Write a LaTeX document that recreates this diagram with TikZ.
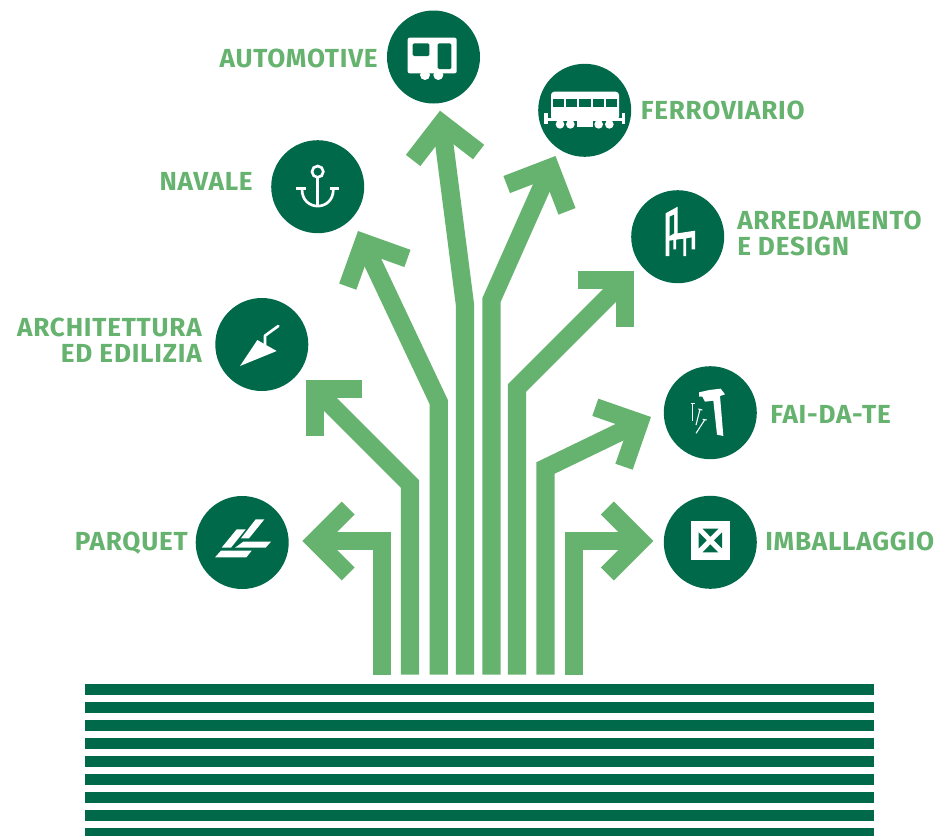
\documentclass[tikz,border=0pt]{standalone}
\usepackage{fontspec}
\usepackage{xcolor}
\usepackage{tikz}
\usetikzlibrary{arrows.meta}
\setmainfont{Fira Sans}[BoldFont={Fira Sans Bold},LetterSpace=3]
\definecolor{leafgreen}{HTML}{66B26F}
\definecolor{deepgreen}{HTML}{00694A}
\tikzset{
  hub/.style={circle,fill=deepgreen,minimum size=69.75pt,inner sep=0pt},
  tag/.style={text=leafgreen,font=\bfseries\fontsize{19.6pt}{19.5pt}\selectfont,inner sep=0pt,text depth=0pt},
  branch/.style={draw=leafgreen,line width=13.7pt,miter limit=10,
    -{Straight Barb[length=24.75pt,width=49.5pt,line width=13.7pt]}},
  iconzoom/.style={shift={#1},x=0.25pt,y=-0.25pt},
}
\begin{document}
\begin{tikzpicture}[x=0.75pt,y=-0.75pt]
  \useasboundingbox (0,0) rectangle (935,836);

  % ground stripes
  \foreach \y in {684,702,720,738,756,774,792,810,828}
  {
    \fill[deepgreen] (85,\y) rectangle (874,{min(\y+11,836)});
  }

  % circles
  \node[hub] (automotive) at (433.5,57) {};
  \node[hub] (ferroviario) at (584.7,110.3) {};
  \node[hub] (arredamento) at (677.7,236.7) {};
  \node[hub] (faidate) at (710.3,412.7) {};
  \node[hub] (imballaggio) at (710.3,542.3) {};
  \node[hub] (architettura) at (261.8,344.5) {};
  \node[hub] (parquet) at (242.2,542.5) {};
  \node[hub] (navale) at (317.7,186.7) {};

  % labels
  \node[tag,anchor=east] (automotivetag) at (378,58) {AUTOMOTIVE};
  \node[tag,anchor=west] (ferroviariotag) at (640.5,110.5) {FERROVIARIO};
  \node[tag,anchor=west,align=left] (arredamentotag) at (737,233) {ARREDAMENTO\\E DESIGN};
  \node[tag,anchor=west] (faidatetag) at (770,414) {FAI-DA-TE};
  \node[tag,anchor=west] (imballaggiotag) at (765,541) {IMBALLAGGIO};
  \node[tag,anchor=east,align=right] (architetturatag) at (202,340) {ARCHITETTURA\\ED EDILIZIA};
  \node[tag,anchor=east] (parquettag) at (188,541) {PARQUET};
  \node[tag,anchor=east] (navaletag) at (253,181) {NAVALE};

  % arrows
  \foreach \leaf/\x/\bendy/\tipx/\tipy in {parquet/381.8/541/302.3/541,
    architettura/410/484/306/380,navale/438.7/402/358/231,
    automotive/465/305/440/110.7,ferroviario/491.5/300/555.5/156,
    arredamento/517/388/634/271,faidate/545.5/468/651/417,
    imballaggio/573.8/541/653.3/541}
  {
    \coordinate (\leaf root) at (\x,674.5);
    \coordinate (\leaf bend) at (\x,\bendy);
    \coordinate (\leaf tip) at (\tipx,\tipy);
    \draw[branch] (\leaf root) -- (\leaf bend) -- (\leaf tip);
  }

  % caravan
  \begin{scope}[iconzoom={(380,0)}]
    \fill[white] (135,225) circle [radius=15];
    \fill[white] (175,225) circle [radius=15];
    \fill[white,rounded corners=1.5pt] (83,113) rectangle (230,220);
    \fill[deepgreen,rounded corners=1pt] (98,130) rectangle (148,168);
    \fill[deepgreen,rounded corners=1pt] (173,130) rectangle (214,207);
  \end{scope}
  % train
  \begin{scope}[iconzoom={(380,0)}]
    \fill[white,rounded corners=2.5pt] (513,360) -- (513,275) -- (717,275) -- (717,360) -- cycle;
    \fill[white] (492,340) rectangle (503,372);
    \fill[white] (726,340) rectangle (736,372);
    \fill[white] (492,354) rectangle (736,364);
    \fill[white] (590,360) rectangle (640,380);
    \foreach \x in {519,558,598,638,677}
    {
      \fill[deepgreen] (\x,297) rectangle (\x+34,321);
    }
    \foreach \x in {540,571,656,688}
    {
      \fill[white] (\x,373) circle [radius=13];
    }
  \end{scope}
  % chair
  \begin{scope}[iconzoom={(620,180)}]
    \fill[white] (137,100) -- (173,80) -- (173,160) -- (225,152) -- (225,208) -- (215,208) --
    (215,172) -- (198,175) -- (198,228) -- (190,228) -- (190,176) -- (168,179) -- (168,208) --
    (160,208) -- (160,180) -- (148,182) -- (148,228) -- (137,228) -- cycle;
    \fill[deepgreen] (149,110) -- (162,104) -- (162,160) -- (149,168) -- cycle;
  \end{scope}
  % hammer and nails
  \begin{scope}[iconzoom={(650,360)}]
    \fill[white] (147,97) -- (178,90) -- (212,86) -- (225,103) -- (210,108) -- (220,228) --
    (201,224) -- (190,122) -- (165,125) -- (157,110) -- (147,110) -- cycle;
    \draw[white,line width=0.8pt] (122,130) -- (135,130) (128,130) -- (128,182);
    \draw[white,line width=0.8pt] (145,147) -- (157,150) (150,148) -- (138,195);
    \draw[white,line width=0.8pt] (158,178) -- (170,180) (165,178) -- (138,220);
  \end{scope}
  % crate
  \begin{scope}[iconzoom={(650,360)}]
    \fill[white] (122,482) rectangle (241,601);
    \fill[deepgreen] (158,506) -- (205,506) -- (181,530) -- cycle;
    \fill[deepgreen] (146,517) -- (146,565) -- (170,541) -- cycle;
    \fill[deepgreen] (216,517) -- (216,565) -- (192,541) -- cycle;
    \fill[deepgreen] (158,577) -- (205,577) -- (181,553) -- cycle;
  \end{scope}
  % trowel and floor boards
  \begin{scope}[iconzoom={(185,290)}]
    \fill[white] (165,228) -- (217,150) -- (275,183) -- cycle;
    \draw[white,line width=2pt,line cap=round,line join=round] (240,164) -- (240,137) -- (280,108);
    \fill[white] (212,688) -- (238,688) -- (192,745) -- (168,745) -- cycle;
    \fill[white] (155,718) -- (182,718) -- (138,773) -- (110,773) -- cycle;
    \fill[white] (175,755) -- (258,755) -- (242,773) -- (150,773) -- cycle;
    \fill[white] (108,782) -- (200,782) -- (184,802) -- (90,802) -- cycle;
  \end{scope}
  % anchor
  \begin{scope}[iconzoom={(265,130)},white,line width=2pt]
    \draw (158,125) circle [radius=17];
    \draw (158,142) -- (158,228);
    \draw (111,178) .. controls (111,245) and (205,245) .. (205,178);
    \draw (94,175) -- (122,175) (194,175) -- (222,175);
  \end{scope}

\end{tikzpicture}
\end{document}
